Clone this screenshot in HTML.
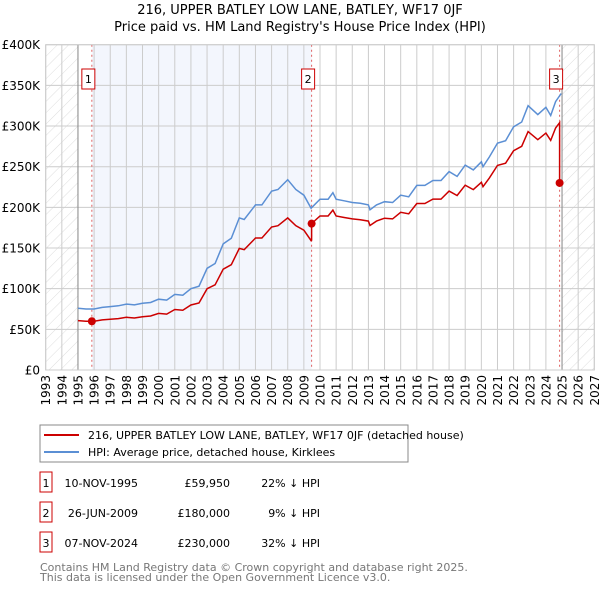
<!DOCTYPE html>
<html><head><meta charset="utf-8">
<style>
body{margin:0;background:#fff;font-family:"DejaVu Sans","Liberation Sans",sans-serif;}
svg text{font-family:"DejaVu Sans","Liberation Sans",sans-serif;}
</style></head>
<body>
<svg id="chart" width="600" height="590" xmlns="http://www.w3.org/2000/svg">
<defs>
<pattern id="hatch" patternUnits="userSpaceOnUse" width="8" height="8" patternTransform="rotate(45)">
<line x1="0" y1="0" x2="0" y2="8" stroke="#d4d4d4" stroke-width="0.8"/>
</pattern>
</defs>
<text x="300" y="14" text-anchor="middle" font-size="13">216, UPPER BATLEY LOW LANE, BATLEY, WF17 0JF</text>
<text x="300" y="31" text-anchor="middle" font-size="13">Price paid vs. HM Land Registry's House Price Index (HPI)</text>
<g id="plot"></g>
<g>
<rect x="40" y="425" width="368" height="37" fill="#fff" stroke="#888"/>
<line x1="44" y1="435" x2="79" y2="435" stroke="#cc0000" stroke-width="2"/>
<text x="88" y="439" font-size="11">216, UPPER BATLEY LOW LANE, BATLEY, WF17 0JF (detached house)</text>
<line x1="44" y1="452" x2="79" y2="452" stroke="#5b8fd4" stroke-width="2"/>
<text x="88" y="456" font-size="11">HPI: Average price, detached house, Kirklees</text>
</g>
<g id="table" font-size="11"></g>
<text x="40" y="571" font-size="11" fill="#777">Contains HM Land Registry data © Crown copyright and database right 2025.</text>
<text x="40" y="581" font-size="11" fill="#777">This data is licensed under the Open Government Licence v3.0.</text>
</svg>
<script>
const hpiYears=[1995.0,1995.5,1996.0,1996.5,1997.0,1997.5,1998.0,1998.5,1999.0,1999.5,2000.0,2000.5,2001.0,2001.5,2002.0,2002.5,2003.0,2003.5,2004.0,2004.5,2005.0,2005.3,2006.0,2006.4,2007.0,2007.4,2008.0,2008.5,2009.0,2009.45,2010.0,2010.5,2010.8,2011.0,2011.5,2012.0,2012.5,2013.0,2013.1,2013.5,2014.0,2014.5,2015.0,2015.5,2016.0,2016.5,2017.0,2017.5,2018.0,2018.5,2019.0,2019.5,2020.0,2020.1,2020.5,2021.0,2021.5,2022.0,2022.5,2022.9,2023.5,2024.0,2024.3,2024.6,2024.95];
const hpiValues=[76,75,75,77,78,79,81,80,82,83,87,86,93,92,100,103,125,131,155,162,187,185,203,203,220,222,234,222,215,199,210,210,218,210,208,206,205,203,197,203,207,206,215,213,227,227,233,233,244,238,252,246,256,250,262,279,282,299,305,325,314,323,313,330,340];
const saleYears=[1995.86,2009.48,2024.85];
const salePrices=[59950,180000,230000];
const saleLabels=["1","2","3"];
const saleDates=["10-NOV-1995","26-JUN-2009","07-NOV-2024"];
const salePriceText=["£59,950","£180,000","£230,000"];
const saleDiffText=["22% ↓ HPI","9% ↓ HPI","32% ↓ HPI"];
const yTicks=[0,50,100,150,200,250,300,350,400];
const yTickLabels=["£0","£50K","£100K","£150K","£200K","£250K","£300K","£350K","£400K"];
const xTicks=[1993,1994,1995,1996,1997,1998,1999,2000,2001,2002,2003,2004,2005,2006,2007,2008,2009,2010,2011,2012,2013,2014,2015,2016,2017,2018,2019,2020,2021,2022,2023,2024,2025,2026,2027];

const X0=45.7,X1=594.3,Y0=370,Y1=44.7;
const xs=y=>X0+(y-1993)/(2027-1993)*(X1-X0);
const ys=v=>Y0-v/400*(Y0-Y1);
const NS="http://www.w3.org/2000/svg";
const plot=document.getElementById('plot');
function mk(tag,attrs,parent){const e=document.createElementNS(NS,tag);for(const k in attrs)e.setAttribute(k,attrs[k]);(parent||plot).appendChild(e);return e;}
function hpiAt(t){for(let i=0;i<hpiYears.length-1;i++){if(t>=hpiYears[i]&&t<=hpiYears[i+1]){const f=(t-hpiYears[i])/(hpiYears[i+1]-hpiYears[i]);return hpiValues[i]+f*(hpiValues[i+1]-hpiValues[i]);}}return hpiValues[hpiValues.length-1];}

let r=mk('rect',{x:X0,y:Y1,width:X1-X0,height:Y0-Y1,fill:'#fff'});


r=mk('rect',{x:xs(saleYears[0]),y:Y1,width:xs(saleYears[1])-xs(saleYears[0]),height:Y0-Y1,fill:'#f3f6fd'});


r=mk('rect',{x:X0,y:Y1,width:xs(1995)-X0,height:Y0-Y1,fill:'url(#hatch)'});


r=mk('rect',{x:xs(2025),y:Y1,width:X1-xs(2025),height:Y0-Y1,fill:'url(#hatch)'});



xTicks.forEach(t=>{
  const l=mk('line',{x1:xs(t),x2:xs(t),y1:Y1,y2:Y0,stroke:'#ccc','stroke-width':1});
  
  
  const tx=mk('text',{x:0,y:0,'font-size':12,'text-anchor':'end',transform:`translate(${xs(t)+4.5},${Y0+5}) rotate(-90)`});
  tx.textContent=t;
  
  
});
yTicks.forEach((v,i)=>{
  const l=mk('line',{x1:X0,x2:X1,y1:ys(v),y2:ys(v),stroke:'#ccc','stroke-width':1});
  
  
  const tx=mk('text',{x:40,y:ys(v)+4.5,'font-size':12,'text-anchor':'end'});
  tx.textContent=yTickLabels[i];
  
  
});
r=mk('line',{x1:xs(1995),x2:xs(1995),y1:Y1,y2:Y0,stroke:'#888'});


r=mk('line',{x1:xs(2025),x2:xs(2025),y1:Y1,y2:Y0,stroke:'#888'});



saleYears.forEach((s,i)=>{
  const l=mk('line',{x1:xs(s),x2:xs(s),y1:Y1,y2:Y0,stroke:'#e06060','stroke-dasharray':'2,3','stroke-width':1});
  
  
});

let d=hpiYears.map((t,i)=>(i?'L':'M')+xs(t).toFixed(1)+','+ys(hpiValues[i]).toFixed(1)).join('');
let p=mk('path',{d:d,fill:'none',stroke:'#5b8fd4','stroke-width':1.5});



let pts=[];
for(let k=0;k<saleYears.length;k++){
  const start=saleYears[k], end=k+1<saleYears.length?saleYears[k+1]:2025;
  const f=(salePrices[k]/1000)/hpiAt(start);
  const ts=[start].concat(hpiYears.filter(t=>t>start&&t<end)).concat([end]);
  ts.forEach(t=>pts.push([t,hpiAt(t)*f]));
}
const f0=(salePrices[0]/1000)/hpiAt(saleYears[0]);
const pre=hpiYears.filter(t=>t<saleYears[0]).map(t=>[t,hpiAt(t)*f0]);
pts=pre.concat(pts);
d=pts.map((q,i)=>(i?'L':'M')+xs(q[0]).toFixed(1)+','+ys(q[1]).toFixed(1)).join('');
p=mk('path',{d:d,fill:'none',stroke:'#cc0000','stroke-width':1.5});



saleYears.forEach((s,i)=>{
  const c=mk('circle',{cx:xs(s),cy:ys(salePrices[i]/1000),r:4,fill:'#cc0000'});
  
  
  const bx=xs(s)-10;
  const b=mk('rect',{x:bx,y:69,width:13,height:20,fill:'#fff',stroke:'#cc0000'});
  
  
  const tx=mk('text',{x:bx+6.5,y:83,'font-size':11,'text-anchor':'middle'});
  tx.textContent=saleLabels[i];
  
  
});
r=mk('rect',{x:X0,y:Y1,width:X1-X0,height:Y0-Y1,fill:'none',stroke:'#ccc'});



const tbl=document.getElementById('table');
saleYears.forEach((s,i)=>{
  const y=487+i*30;
  const b=mk('rect',{x:40,y:y-15,width:12,height:20,fill:'#fff',stroke:'#cc0000'},tbl);
  
  
  const cells=[[46,saleLabels[i],'middle'],[138,saleDates[i],'end'],[230,salePriceText[i],'end'],[320,saleDiffText[i],'end']];
  cells.forEach(c=>{
    const tx=mk('text',{x:c[0],y:y,'text-anchor':c[2]},tbl);
    tx.textContent=c[1];
    
    
  });
});
</script>
</body></html>
